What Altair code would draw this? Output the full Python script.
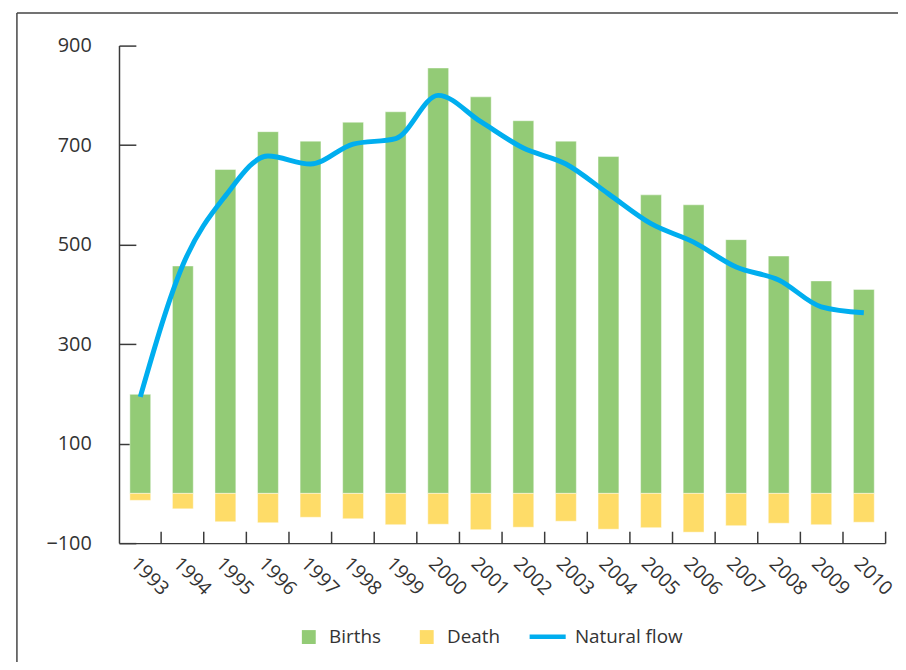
import altair as alt
import pandas as pd

years = [1993, 1994, 1995, 1996, 1997, 1998, 1999, 2000, 2001,
         2002, 2003, 2004, 2005, 2006, 2007, 2008, 2009, 2010]
births = [199, 457, 651, 727, 708, 746, 767, 855, 797,
          749, 708, 677, 600, 580, 510, 477, 427, 410]
deaths = [-14, -31, -57, -59, -48, -51, -63, -62, -73,
          -68, -56, -72, -69, -78, -65, -60, -63, -58]
natural_flow = [194, 459, 598, 678, 662, 702, 713, 800, 747,
                694, 662, 602, 542, 505, 455, 429, 375, 363]
y_ticks = [-100, 100, 300, 500, 700, 900]

GREEN = "#93CB76"
YELLOW = "#FEDC68"
BLUE = "#00AEEF"
AXIS = "#3a3a3a"
TEXT = "#333333"
FONT = "Open Sans"

W, H = 773, 502

bars_df = pd.DataFrame(
    {"year": years * 2,
     "series": ["Births"] * len(years) + ["Death"] * len(years),
     "value": births + deaths}
)
line_df = pd.DataFrame(
    {"year": years, "value": natural_flow, "series": ["Natural flow"] * len(years)}
)

xscale = alt.Scale(paddingInner=0, paddingOuter=0)
yscale = alt.Scale(domain=[-100, 900], nice=False)

bars = alt.Chart(bars_df).mark_bar(
    width={"band": 0.49}, stroke="white", strokeOpacity=0.45, strokeWidth=1
).encode(
    x=alt.X("year:O", scale=xscale, title=None,
            axis=alt.Axis(orient="bottom", labelAngle=45, labelAlign="left",
                          labelBaseline="top", labelPadding=11, ticks=False,
                          tickSize=0, domain=True, domainColor=AXIS,
                          domainWidth=1.5, labelFontSize=19.5, labelColor=TEXT,
                          labelFont=FONT, grid=False)),
    y=alt.Y("value:Q", scale=yscale, stack=None, title=None,
            axis=alt.Axis(orient="left", values=y_ticks, ticks=False, tickSize=0,
                          labelPadding=28, domain=True, domainColor=AXIS,
                          domainWidth=1.5, labelFontSize=20, labelColor=TEXT,
                          labelFont=FONT, grid=False)),
    color=alt.Color("series:N",
                    scale=alt.Scale(domain=["Births", "Death"], range=[GREEN, YELLOW]),
                    legend=alt.Legend(orient="none", legendX=182, legendY=587,
                                      direction="horizontal", title=None,
                                      symbolType="square", symbolSize=196,
                                      symbolStrokeWidth=0, labelFontSize=19,
                                      labelFont=FONT, labelColor=TEXT,
                                      labelOffset=11, columnPadding=36, padding=0)),
)

line = alt.Chart(line_df).mark_line(
    interpolate="monotone", strokeWidth=5, strokeCap="butt"
).encode(
    x=alt.X("year:O", scale=xscale, title=None,
            axis=alt.Axis(orient="top", offset=-H, bandPosition=1, labels=False,
                          domain=False, ticks=True, tickSize=12, tickColor=AXIS,
                          tickWidth=1.5, grid=False)),
    y=alt.Y("value:Q", scale=yscale, title=None,
            axis=alt.Axis(orient="right", offset=-W, values=y_ticks, labels=False,
                          domain=False, ticks=True, tickSize=17, tickColor=AXIS,
                          tickWidth=1.5, grid=False)),
    stroke=alt.Stroke("series:N",
                      scale=alt.Scale(domain=["Natural flow"], range=[BLUE]),
                      legend=alt.Legend(orient="none", legendX=412, legendY=576,
                                        title=None, symbolType="stroke",
                                        symbolSize=1325, symbolStrokeWidth=4.5,
                                        labelFontSize=19, labelFont=FONT,
                                        labelColor=TEXT, labelOffset=7, padding=0)),
)

frame_df = pd.DataFrame({"k": [0]})
frame_left = alt.Chart(frame_df).mark_rule(color="#444444", strokeWidth=1.5).encode(
    x=alt.value(-103), y=alt.value(-33), y2=alt.value(640)
)
frame_top = alt.Chart(frame_df).mark_rule(color="#444444", strokeWidth=1.5).encode(
    x=alt.value(-103), x2=alt.value(800), y=alt.value(-33)
)

chart = alt.layer(bars, line, frame_left, frame_top).resolve_axis(
    x="independent", y="independent"
).resolve_scale(color="independent").properties(
    width=W, height=H,
    autosize=alt.AutoSizeParams(type="none"),
    padding={"left": 112, "top": 35, "right": 13, "bottom": 117},
    background="white",
).configure_view(stroke=None)

chart.save("out.html", embed_options={"renderer": "svg", "actions": False})
